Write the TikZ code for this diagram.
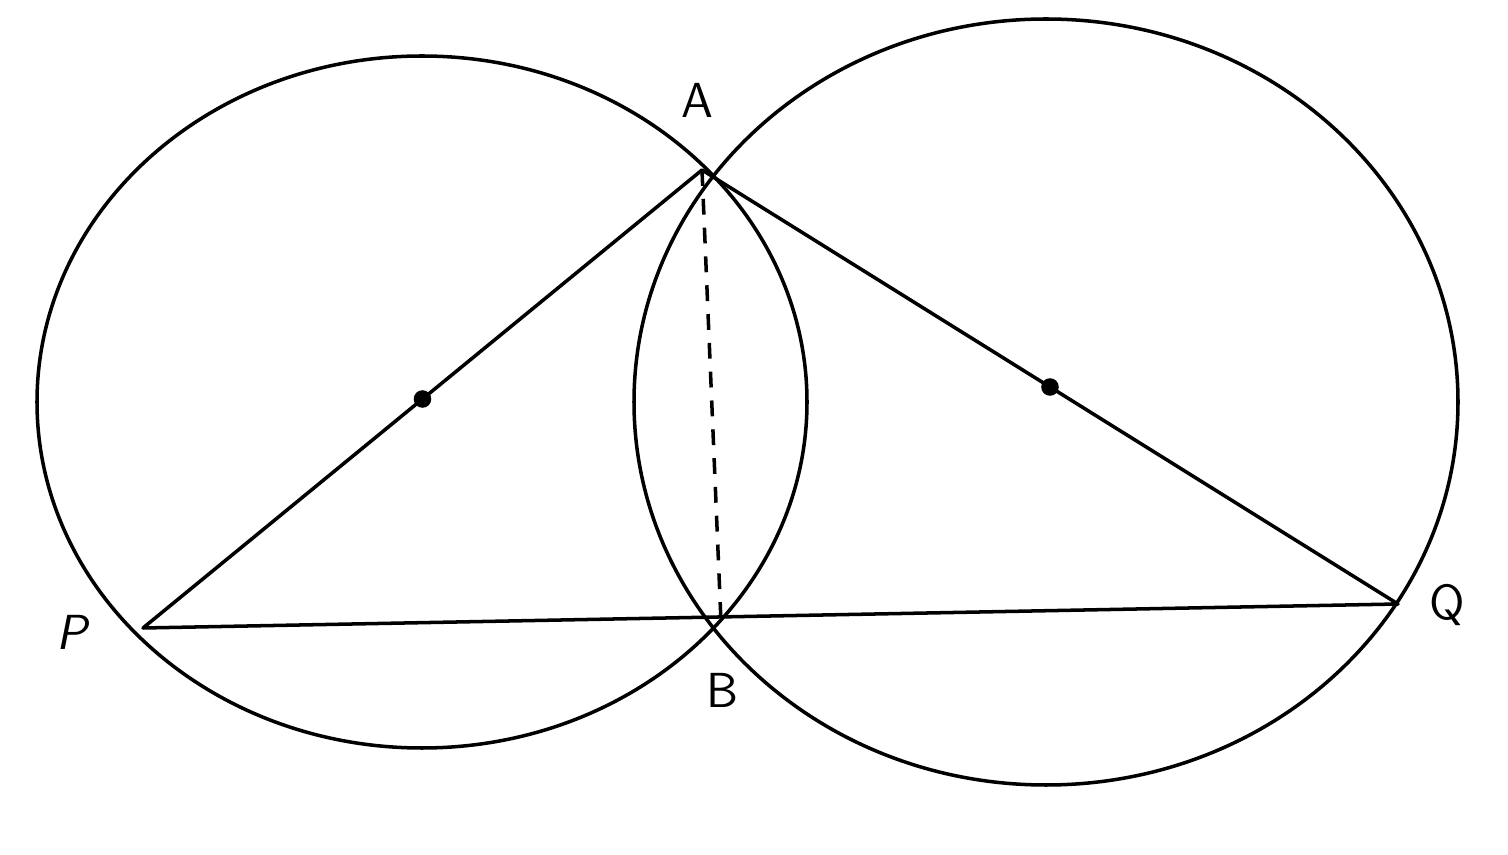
\documentclass[tikz,border=0pt]{standalone}
\usepackage{tikz}
\usetikzlibrary{calc}

\begin{document}
\begin{tikzpicture}[x=0.01cm,y=-0.01cm,line width=1pt,line join=round,
    lbl/.style={font=\fontsize{14}{16}\selectfont\sffamily},
    ctr/.style={fill=black,circle,inner sep=0pt,minimum size=5pt}]
    \useasboundingbox (0,0) rectangle (1508,855);
    %points
    \coordinate (A) at (702,170);
    \coordinate (B) at (721,622);
    \coordinate (P) at (143,628);
    \coordinate (Q) at (1398,604);
    \coordinate (O1) at (422,402);
    \coordinate (O2) at (1046,402);
    %circles
    \draw (O1) ellipse [x radius=385, y radius=346];
    \draw (O2) ellipse [x radius=412, y radius=383];
    %triangle
    \draw (P) -- (A) -- (Q) -- cycle;
    \draw[dashed,dash pattern=on 4.5pt off 3.7pt] (A) -- (B);
    %centres on the diameters
    \node[ctr] (c1) at ($(P)!0.5!(A)$) {};
    \node[ctr] (c2) at ($(A)!0.5!(Q)$) {};
    %labels
    \node[lbl] (lA) at (697,100) {A};
    \node[lbl] (lB) at (722,690) {B};
    \node[lbl,xslant=0.2] (lP) at (75,632) {P};
    \node[lbl] (lQ) at (1447,605) {Q};
\end{tikzpicture}
\end{document}
